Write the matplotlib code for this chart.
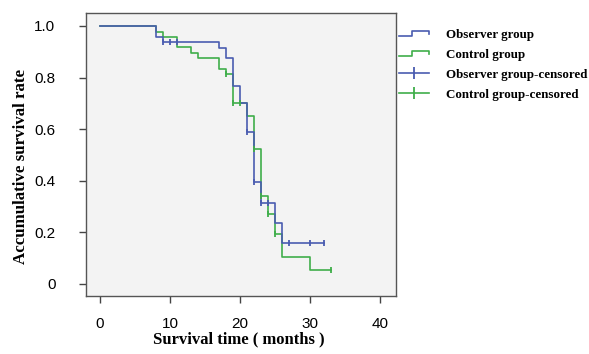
import matplotlib
matplotlib.use("Agg")
import matplotlib.pyplot as plt
from matplotlib.lines import Line2D
from matplotlib.legend_handler import HandlerBase

# ---- data ----
obs_time = [0, 8, 9, 17, 18, 19, 20, 21, 22, 23, 25, 26, 32]
obs_surv = [1.0, 0.956, 0.936, 0.913, 0.874, 0.768, 0.70, 0.589, 0.394, 0.314, 0.236, 0.158, 0.158]
obs_cens_time = [9, 10, 11, 21, 22, 23, 24, 27, 30, 32]
obs_cens_surv = [0.936, 0.936, 0.936, 0.589, 0.394, 0.314, 0.314, 0.158, 0.158, 0.158]

ctl_time = [0, 8, 9, 11, 13, 14, 17, 18, 19, 21, 22, 23, 24, 25, 26, 30, 33]
ctl_surv = [1.0, 0.978, 0.956, 0.917, 0.897, 0.874, 0.833, 0.813, 0.70, 0.651, 0.521, 0.34, 0.272, 0.193, 0.104, 0.054, 0.054]
ctl_cens_time = [18, 19, 20, 22, 23, 24, 25, 33]
ctl_cens_surv = [0.813, 0.70, 0.70, 0.521, 0.34, 0.272, 0.193, 0.054]

x_ticks = [0, 10, 20, 30, 40]
y_ticks = [0, 0.2, 0.4, 0.6, 0.8, 1.0]
y_tick_labels = ["0", "0.2", "0.4", "0.6", "0.8", "1.0"]
legend_labels = ["Observer group", "Control group", "Observer group-censored", "Control group-censored"]

blue = "#4a5cb0"
green = "#3fae4a"

fig = plt.figure(figsize=(5.89, 3.54), dpi=100)
ax = fig.add_axes([0.146, 0.164, 0.526, 0.799])
ax.set_facecolor("#f3f3f3")

ax.step(obs_time, obs_surv, where="post", color=blue, lw=1.2, zorder=3)
ax.step(ctl_time, ctl_surv, where="post", color=green, lw=1.2, zorder=2)
ax.plot(obs_cens_time, obs_cens_surv, ls="none", marker="|", ms=5, mew=1.3, color=blue, zorder=4)
ax.plot(ctl_cens_time, ctl_cens_surv, ls="none", marker="|", ms=5, mew=1.3, color=green, zorder=4)

ax.set_xlim(-2, 42.3)
ax.set_ylim(-0.047, 1.05)
ax.set_xticks(x_ticks)
ax.set_yticks(y_ticks)
ax.set_yticklabels(y_tick_labels)
for lab in ax.get_xticklabels() + ax.get_yticklabels():
    lab.set_fontfamily("Liberation Sans")
    lab.set_fontsize(11)
ax.tick_params(direction="out", length=5, width=1, color="#444444")
ax.tick_params(axis="y", pad=17)
ax.tick_params(axis="x", pad=10)
for s in ax.spines.values():
    s.set_color("#555555")
    s.set_linewidth(1.0)

ax.set_xlabel("Survival time ( months )", family="Liberation Serif", weight="bold", fontsize=12)
ax.set_ylabel("Accumulative survival rate", family="Liberation Serif", weight="bold", fontsize=12.2)
ax.xaxis.set_label_coords(0.492, -0.127)
ax.yaxis.set_label_coords(-0.184, 0.458)


class StepHandler(HandlerBase):
    def __init__(self, color):
        super().__init__()
        self.color = color

    def create_artists(self, legend, orig_handle, xdescent, ydescent, width, height, fontsize, trans):
        xs = [0, 0.45 * width, 0.45 * width, width, width]
        ys = [0.2 * height, 0.2 * height, 0.8 * height, 0.8 * height, 0.45 * height]
        ln = Line2D([x - xdescent for x in xs], [y - ydescent for y in ys], color=self.color, lw=1.2, transform=trans)
        return [ln]


class CensHandler(HandlerBase):
    def __init__(self, color):
        super().__init__()
        self.color = color

    def create_artists(self, legend, orig_handle, xdescent, ydescent, width, height, fontsize, trans):
        ln = Line2D([-xdescent, width - xdescent], [height / 2 - ydescent] * 2, color=self.color, lw=1.2, transform=trans)
        mk = Line2D([width / 2 - xdescent], [height / 2 - ydescent], marker="|", ms=9, mew=1.3, color=self.color, transform=trans)
        return [ln, mk]


h1 = Line2D([], [], color=blue)
h2 = Line2D([], [], color=green)
h3 = Line2D([], [], color=blue, marker="|")
h4 = Line2D([], [], color=green, marker="|")
leg = fig.legend([h1, h2, h3, h4], legend_labels,
                 handler_map={h1: StepHandler(blue), h2: StepHandler(green),
                              h3: CensHandler(blue), h4: CensHandler(green)},
                 loc="upper left", bbox_to_anchor=(0.668, 0.933), frameon=False,
                 prop={"family": "Liberation Serif", "weight": "bold", "size": 9.4},
                 handlelength=2.3, handletextpad=1.3, labelspacing=0.6,
                 borderaxespad=0.0)

fig.savefig("out.png", dpi=100)
